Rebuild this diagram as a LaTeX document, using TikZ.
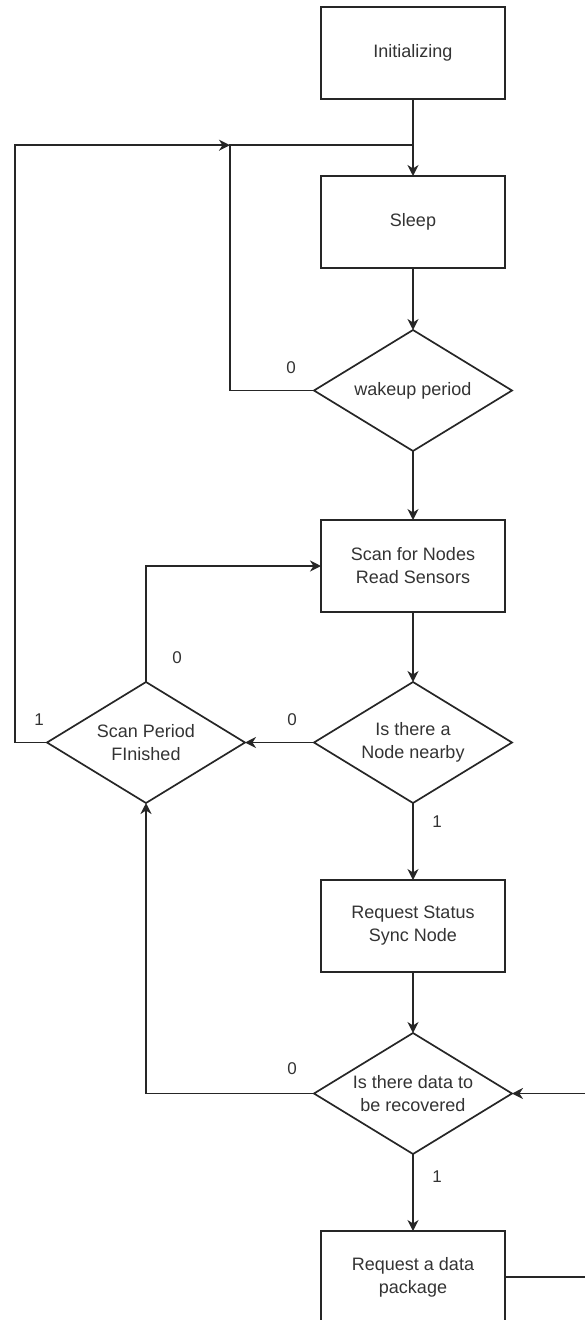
\documentclass[tikz,border=0pt]{standalone}
\usepackage{fontspec}
\setmainfont{Liberation Sans}
\usepackage{tikz}
\usetikzlibrary{arrows.meta, positioning, shapes.geometric, calc}

\begin{document}
\begin{tikzpicture}[
    x=1pt, y=1pt,
    font=\fontsize{18}{23}\selectfont,
    %% node styles
    proc/.style={
        draw=black!85, line width=1.7pt, outer sep=0pt,
        minimum width=184pt, minimum height=92pt,
        align=center, text=black!80
    },
    decision/.style={
        draw=black!85, line width=1.7pt, diamond, aspect=1.64,
        inner sep=0pt, outer sep=0pt,
        minimum width=198pt, minimum height=121pt,
        align=center, text=black!80
    },
    %% connector styles
    flow/.style={-{Stealth[length=11pt, width=11pt, inset=3.5pt]}, line width=1.7pt, draw=black!85},
    link/.style={line width=1.7pt, draw=black!85},
    %% label style
    lbl/.style={font=\fontsize{17}{20}\selectfont, text=black!80}
]
    \useasboundingbox (0,0) rectangle (585,-1320);

    %% --- main column ------------------------------------------
    \node[proc]     (init)   at (413,-53) {Initializing};
    \node[proc]     (sleep)  [below=77pt of init]  {Sleep};
    \node[decision] (wake)   [below=62pt of sleep] {wakeup period};
    \node[proc]     (scan)   [below=69pt of wake]  {Scan for Nodes\\Read Sensors};
    \node[decision] (near)   [below=70pt of scan]  {Is there a\\Node nearby};
    \node[decision] (period) [left=69pt of near]   {Scan Period\\FInished};
    \node[proc]     (req)    [below=77pt of near]  {Request Status\\Sync Node};
    \node[decision] (data)   [below=61pt of req]   {Is there data to\\be recovered};
    \node[proc]     (pkg)    [below=77pt of data]  {Request a data\\package};

    %% --- loop corners -----------------------------------------
    \coordinate (join)    at ($(init.south)!0.6!(sleep.north)$);
    \coordinate (wcorner) at ($(join)+(-183,0)$);
    \coordinate (lcorner) at ($(join)+(-398,0)$);
    \coordinate (rloop)   at ($(pkg.east)+(95,0)$);

    %% --- arrows: main flow ------------------------------------
    \draw[flow] (init) -- (sleep);
    \draw[flow] (sleep) -- (wake);
    \draw[flow] (wake) -- (scan);
    \draw[flow] (scan) -- (near);
    \draw[flow] (near) -- (req);
    \draw[flow] (req) -- (data);
    \draw[flow] (data) -- (pkg);

    %% --- arrows: loops back -----------------------------------
    \draw[link] (wake.west) -| (wcorner) -- (join);
    \draw[flow] (period.west) -| (lcorner) -- (wcorner);
    \draw[flow] (period.north) |- (scan.west);
    \draw[flow] (near.west) -- (period.east);
    \draw[flow] (data.west) -| (period.south);
    \draw[flow] (pkg.east) -- (rloop) |- (data.east);

    %% --- branch labels ----------------------------------------
    \node[lbl] (wake0)   at ($(wake.west)+(-23,23)$)    {0};
    \node[lbl] (near0)   at ($(near.west)+(-22,23)$)    {0};
    \node[lbl] (near1)   at ($(near.south)+(24,-19)$)   {1};
    \node[lbl] (period0) at ($(period.north)+(31,24)$)  {0};
    \node[lbl] (period1) at ($(period.west)+(-8,23)$)   {1};
    \node[lbl] (data0)   at ($(data.west)+(-22,25)$)    {0};
    \node[lbl] (data1)   at ($(data.south)+(24,-23)$)   {1};

\end{tikzpicture}
\end{document}
